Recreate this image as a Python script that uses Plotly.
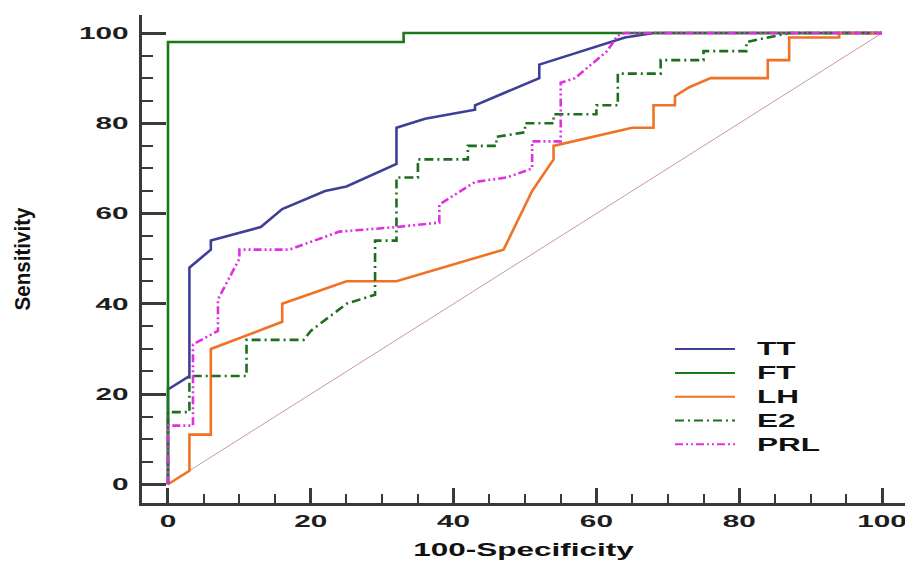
import plotly.graph_objects as go

# ---- data ----
TT_x = [0, 0, 3, 3, 6, 6, 13, 16, 22, 25, 32, 32, 36, 43, 43, 52, 52, 64, 68, 100]
TT_y = [0, 21, 24, 48, 52, 54, 57, 61, 65, 66, 71, 79, 81, 83, 84, 90, 93, 99, 100, 100]

FT_x = [0, 0, 33, 33, 100]
FT_y = [0, 98, 98, 100, 100]

LH_x = [0, 3, 3, 6, 6, 16, 16, 25, 32, 47, 51, 54, 54, 65, 68, 68, 71, 71, 73, 76, 84, 84, 87, 87, 94, 94, 100]
LH_y = [0, 3, 11, 11, 30, 36, 40, 45, 45, 52, 65, 72, 75, 79, 79, 84, 84, 86, 88, 90, 90, 94, 94, 99, 99, 100, 100]

E2_x = [0, 0, 3, 3, 11, 11, 19, 20, 25, 29, 29, 32, 32, 35, 35, 42, 42, 46, 46, 50, 50, 54, 54, 60, 60, 63, 63, 69, 69, 75, 75, 81, 81, 84, 87, 100]
E2_y = [0, 16, 16, 24, 24, 32, 32, 34, 40, 42, 54, 54, 68, 68, 72, 72, 75, 75, 77, 78, 80, 80, 82, 82, 84, 84, 91, 91, 94, 94, 96, 96, 98, 99, 100, 100]

PRL_x = [0, 0, 3.5, 3.5, 7, 7, 10, 10, 17, 24, 32, 38, 38, 43, 47.5, 51, 51, 55, 55, 57, 61.5, 63, 64, 100]
PRL_y = [0, 13, 13, 31, 34, 41, 50, 52, 52, 56, 57, 58, 62, 67, 68, 70, 76, 76, 89, 90, 96, 99.5, 100, 100]

REF_x = [0, 100]
REF_y = [0, 100]

SERIES = ["TT", "FT", "LH", "E2", "PRL"]
X_TITLE = "100-Specificity"
Y_TITLE = "Sensitivity"
TICKS = [0, 20, 40, 60, 80, 100]

styles = {
    "TT": dict(color="#3f3f98", dash="solid"),
    "FT": dict(color="#177a17", dash="solid"),
    "LH": dict(color="#f07325", dash="solid"),
    "E2": dict(color="#1f6e1f", dash="9px,4px,2px,4px"),
    "PRL": dict(color="#e030e0", dash="8px,3px,2px,3px,2px,3px"),
}
data = {"TT": (TT_x, TT_y), "FT": (FT_x, FT_y), "LH": (LH_x, LH_y),
        "E2": (E2_x, E2_y), "PRL": (PRL_x, PRL_y)}

fig = go.Figure()
fig.add_trace(go.Scatter(x=REF_x, y=REF_y, mode="lines", showlegend=False,
                         line=dict(color="#c99a9a", width=1), hoverinfo="skip"))
for name in SERIES:
    xs, ys = data[name]
    st = styles[name]
    fig.add_trace(go.Scatter(x=xs, y=ys, mode="lines", name=name,
                             line=dict(color=st["color"], width=2.6, dash=st["dash"])))

tickfont = dict(family="Liberation Sans, Arial, sans-serif", size=17, color="#1e1e1e", weight="bold")
axis_common = dict(showgrid=False, zeroline=False, showline=True, linecolor="#3a3a3a",
                   linewidth=3, ticks="inside", tickcolor="#3a3a3a", tickwidth=2.5,
                   tickvals=TICKS, tickfont=tickfont, mirror=False, automargin=False)

fig.update_layout(
    width=905, height=565,
    margin=dict(l=142, r=0, t=15, b=62),
    paper_bgcolor="white", plot_bgcolor="white",
    showlegend=True,
    legend=dict(x=0.692, y=0.35, xanchor="left", yanchor="top",
                bgcolor="rgba(0,0,0,0)", itemwidth=60,
                font=dict(family="Liberation Sans, Arial, sans-serif", size=16,
                          color="#111", weight="bold"),
                tracegroupgap=0),
    xaxis=dict(range=[-3.64, 103.22], ticklen=15,
               minor=dict(dtick=5, ticks="inside", ticklen=9, tickwidth=2, tickcolor="#3a3a3a"),
               title=dict(text=X_TITLE, standoff=13,
                          font=dict(family="Liberation Sans, Arial, sans-serif", size=18,
                                    color="#111", weight="bold")),
               ticklabelstandoff=1,
               **axis_common),
    yaxis=dict(range=[-4.15, 104], ticklen=24,
               minor=dict(dtick=5, ticks="inside", ticklen=11, tickwidth=2, tickcolor="#3a3a3a"),
               title=dict(text=Y_TITLE, standoff=64,
                          font=dict(family="Liberation Sans, Arial, sans-serif",
                                    size=22, color="#111", weight="bold")),
               ticklabelstandoff=7,
               **axis_common),
)

post = """
document.body.style.margin = '0';
var gd = document.getElementById('{plot_id}');
function stretch(sel, f){
  gd.querySelectorAll(sel).forEach(function(t){
    if(!t.dataset.ow){ t.dataset.ow = t.getComputedTextLength(); }
    t.setAttribute('textLength', (parseFloat(t.dataset.ow)*f).toFixed(1));
    t.setAttribute('lengthAdjust','spacingAndGlyphs');
  });
}
function setLen(sel, L){
  gd.querySelectorAll(sel).forEach(function(t){
    t.setAttribute('textLength', L);
    t.setAttribute('lengthAdjust','spacingAndGlyphs');
  });
}
function doit(){
  gd.querySelectorAll('.legendtext').forEach(function(t){
    t.style.fontSize = '18px';
    if(!t.dataset.ox){ t.dataset.ox = t.getAttribute('x') || '0'; }
    t.setAttribute('x', parseFloat(t.dataset.ox) + 17);
  });
  gd.querySelectorAll('.legend .legendlines path').forEach(function(p){
    p.style.strokeWidth = '2px';
  });
  stretch('.xtick text', 1.75);
  stretch('.ytick text', 1.75);
  stretch('.g-xtitle text', 1.75);
  stretch('.legendtext', 1.75);
  setLen('.g-ytitle text', 103);
  gd.querySelectorAll('.legend [clip-path]').forEach(function(e){ e.removeAttribute('clip-path'); });
}
doit();
gd.on('plotly_afterplot', doit);
"""

fig.write_html("out.html", post_script=post, config={"displayModeBar": False})
